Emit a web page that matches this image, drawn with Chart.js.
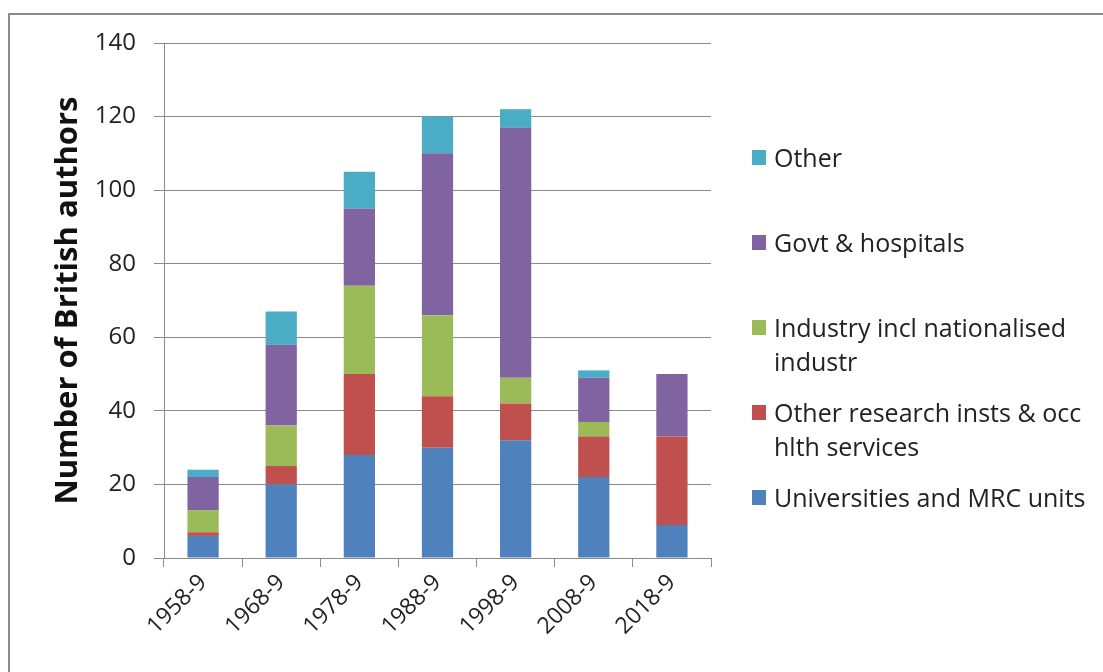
<!DOCTYPE html>
<html>
<head>
<meta charset="utf-8">
<script src="https://cdn.jsdelivr.net/npm/chart.js@4.4.0/dist/chart.umd.min.js"></script>
<style>
  html, body { margin: 0; padding: 0; background: #fff; }
  #wrap { position: relative; width: 1103px; height: 672px; overflow: hidden; }
  #frame { position: absolute; left: 8px; top: 13px; width: 1200px; height: 800px; border: 2px solid #8c8c8c; box-sizing: border-box; }
  canvas { position: absolute; left: 0; top: 0; }
  #legend { position: absolute; left: 752px; top: 140px; font-family: "Open Sans", sans-serif; font-size: 25px; color: #222; }
  .item { position: relative; height: 85px; }
  .sw { position: absolute; left: 0; top: 10px; width: 14px; height: 15px; }
  .tx { position: absolute; left: 22px; top: 0; white-space: pre; line-height: 34px; }
</style>
</head>
<body>
<div id="wrap">
  <div id="frame"></div>
  <canvas id="c" width="1103" height="672"></canvas>
  <div id="legend"></div>
</div>
<script>
const categories = ["1958-9", "1968-9", "1978-9", "1988-9", "1998-9", "2008-9", "2018-9"];
const universities = [6, 20, 28, 30, 32, 22, 9];
const otherResearch = [1, 5, 22, 14, 10, 11, 24];
const industry = [6, 11, 24, 22, 7, 4, 0];
const govt = [9, 22, 21, 44, 68, 12, 17];
const other = [2, 9, 10, 10, 5, 2, 0];
const yTicks = [0, 20, 40, 60, 80, 100, 120, 140];
const seriesNames = ["Universities and MRC units", "Other research insts & occ\nhlth services", "Industry incl nationalised\nindustr", "Govt & hospitals", "Other"];
const seriesColors = ["#4F81BD", "#C0504D", "#9BBB59", "#8064A2", "#4BACC6"];
const seriesValues = [universities, otherResearch, industry, govt, other];

const datasets = seriesValues.map((v, i) => ({
  label: seriesNames[i],
  data: v,
  backgroundColor: seriesColors[i],
  borderWidth: 0,
  barPercentage: 0.4,
  categoryPercentage: 1.0
}));

const gridColor = "#8a8a8a";
const chart = new Chart(document.getElementById("c"), {
  type: "bar",
  data: { labels: categories, datasets },
  options: {
    responsive: false,
    animation: false,
    events: [],
    layout: { padding: { left: 8, right: 392, top: 43, bottom: 0 } },
    plugins: { legend: { display: false }, tooltip: { enabled: false } },
    scales: {
      x: {
        stacked: true,
        offset: true,
        grid: { offset: true, drawOnChartArea: false, drawTicks: true, tickLength: 9, color: gridColor, lineWidth: 1 },
        border: { color: gridColor, width: 1 },
        ticks: { maxRotation: 45, minRotation: 45, color: "#222", padding: 2, font: { family: "Open Sans", size: 23 } },
        afterFit: s => { s.height = 114; }
      },
      y: {
        stacked: true,
        min: 0, max: 140,
        afterBuildTicks: s => { s.ticks = yTicks.map(v => ({ value: v })); },
        grid: { color: gridColor, lineWidth: 1, tickLength: 10 },
        border: { color: gridColor, width: 1 },
        ticks: { color: "#222", padding: 18, font: { family: "Open Sans", size: 24 } },
        title: { display: true, text: "Number of British authors", color: "#111", padding: { top: 42, bottom: 0 }, font: { family: "Open Sans", size: 31, weight: "bold" } },
        afterFit: s => { s.width = 156; }
      }
    }
  }
});

const legend = document.getElementById("legend");
for (let i = seriesNames.length - 1; i >= 0; i--) {
  const item = document.createElement("div");
  item.className = "item";
  const sw = document.createElement("div");
  sw.className = "sw";
  sw.style.background = seriesColors[i];
  const tx = document.createElement("div");
  tx.className = "tx";
  tx.textContent = seriesNames[i];
  item.appendChild(sw);
  item.appendChild(tx);
  legend.appendChild(item);
}
</script>
</body>
</html>
